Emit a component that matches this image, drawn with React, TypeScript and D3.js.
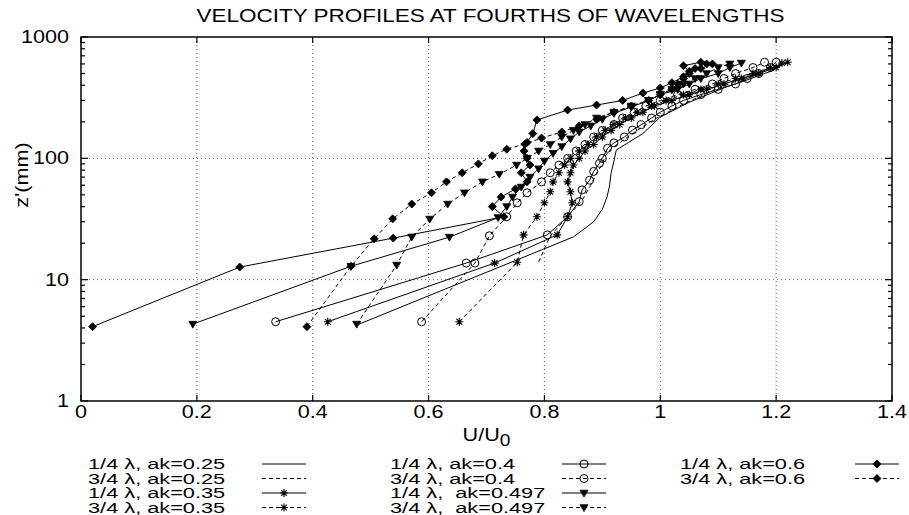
import React from "react";
import * as d3 from "d3";

// Axis ticks
const xTickValues = [0, 0.2, 0.4, 0.6, 0.8, 1, 1.2, 1.4];
const xTickLabels = ["0", "0.2", "0.4", "0.6", "0.8", "1", "1.2", "1.4"];
const yTickValues = [1, 10, 100, 1000];
const yTickLabels = ["1", "10", "100", "1000"];

// Velocity profiles: U/U0 against z' (mm)
const q1ak025U = [0.48, 0.85, 0.885, 0.9, 0.908, 0.912, 0.915, 0.92, 0.924, 0.945, 0.97, 1.0, 1.05, 1.114, 1.15, 1.19, 1.21];
const q1ak025Z = [4.3, 22.5, 30, 38, 48, 58, 75, 95, 117, 135, 160, 219, 290, 388, 443, 520, 590];
const q3ak025U = [0.79, 0.81, 0.84, 0.865, 0.88, 0.89, 0.9, 0.905, 0.915, 0.935, 0.96, 0.99, 1.04, 1.09, 1.14, 1.19];
const q3ak025Z = [14, 23, 33, 45, 60, 75, 90, 105, 120, 140, 170, 210, 280, 360, 450, 560];
const q1ak035U = [0.426, 0.714, 0.822, 0.84, 0.848, 0.845, 0.84, 0.845, 0.85, 0.86, 0.87, 0.885, 0.9, 0.915, 0.93, 0.95, 0.97, 0.99, 1.02, 1.05, 1.08, 1.11, 1.14, 1.17, 1.2, 1.22];
const q1ak035Z = [4.5, 13.7, 23.4, 33, 43, 53, 64, 76, 88, 100, 115, 130, 150, 170, 190, 215, 240, 270, 300, 335, 370, 410, 455, 500, 560, 620];
const q3ak035U = [0.653, 0.753, 0.764, 0.787, 0.8, 0.81, 0.815, 0.825, 0.835, 0.845, 0.86, 0.875, 0.89, 0.905, 0.92, 0.94, 0.96, 0.985, 1.01, 1.04, 1.07, 1.1, 1.13, 1.16, 1.19, 1.21];
const q3ak035Z = [4.5, 13.9, 23.4, 33, 43, 53, 64, 76, 88, 100, 115, 130, 150, 170, 190, 215, 240, 270, 300, 335, 370, 410, 455, 500, 560, 610];
const q1ak04U = [0.336, 0.665, 0.805, 0.84, 0.86, 0.865, 0.878, 0.885, 0.895, 0.9, 0.909, 0.92, 0.938, 0.952, 0.967, 0.985, 1.0, 1.02, 1.04, 1.07, 1.1, 1.13, 1.15, 1.17, 1.19, 1.2];
const q1ak04Z = [4.5, 13.7, 23.4, 33, 44, 55, 66, 78, 91, 100, 121, 134, 150, 171, 189, 215, 240, 270, 300, 335, 370, 410, 455, 500, 560, 620];
const q3ak04U = [0.588, 0.68, 0.705, 0.735, 0.753, 0.77, 0.795, 0.81, 0.825, 0.84, 0.855, 0.87, 0.885, 0.9, 0.92, 0.935, 0.955, 0.975, 1.0, 1.03, 1.06, 1.09, 1.11, 1.13, 1.16, 1.18];
const q3ak04Z = [4.5, 13.7, 23, 33, 43, 52, 64, 76, 88, 100, 115, 130, 150, 170, 190, 215, 240, 270, 300, 335, 370, 410, 455, 500, 560, 620];
const q1ak0497U = [0.193, 0.466, 0.636, 0.72, 0.735, 0.745, 0.76, 0.775, 0.79, 0.8, 0.815, 0.83, 0.845, 0.86, 0.88, 0.9, 0.92, 0.95, 0.98, 1.0, 1.03, 1.05, 1.07, 1.1, 1.12, 1.14];
const q1ak0497Z = [4.3, 12.9, 22.4, 32.5, 40, 48, 58, 70, 82, 95, 110, 125, 145, 165, 185, 210, 235, 265, 300, 335, 370, 410, 455, 500, 560, 610];
const q3ak0497U = [0.476, 0.545, 0.571, 0.602, 0.633, 0.662, 0.693, 0.722, 0.752, 0.77, 0.79, 0.81, 0.83, 0.85, 0.87, 0.89, 0.92, 0.95, 0.98, 1.0, 1.02, 1.04, 1.06, 1.08, 1.1, 1.12];
const q3ak0497Z = [4.3, 13.2, 22.5, 31.6, 42, 52, 64, 74, 88, 100, 115, 130, 150, 170, 190, 215, 240, 270, 300, 335, 370, 410, 455, 500, 560, 600];
const q1ak06U = [0.02, 0.274, 0.539, 0.73, 0.71, 0.725, 0.75, 0.77, 0.76, 0.775, 0.77, 0.765, 0.77, 0.78, 0.787, 0.84, 0.89, 0.935, 0.97, 1.0, 1.02, 1.04, 1.05, 1.04, 1.07, 1.09, 1.07];
const q1ak06Z = [4.1, 12.7, 22, 33, 40, 48, 56, 64, 76, 88, 100, 115, 135, 160, 207, 250, 275, 300, 345, 380, 420, 470, 520, 580, 620, 600, 550];
const q3ak06U = [0.39, 0.466, 0.506, 0.538, 0.571, 0.605, 0.631, 0.658, 0.686, 0.71, 0.735, 0.766, 0.795, 0.83, 0.86, 0.89, 0.92, 0.95, 0.98, 1.0, 1.02, 1.03, 1.04, 1.05, 1.06, 1.08];
const q3ak06Z = [4.1, 12.9, 21.7, 31.7, 42, 52, 64, 76, 90, 105, 119, 131, 147, 165, 185, 210, 240, 270, 300, 335, 370, 410, 455, 500, 550, 600];

type Marker = "none" | "circle" | "star" | "triangle" | "diamond";
interface Series { label: string; u: number[]; z: number[]; dashed: boolean; marker: Marker; }

const series: Series[] = [
  { label: "1/4 \u03bb, ak=0.25", u: q1ak025U, z: q1ak025Z, dashed: false, marker: "none" },
  { label: "3/4 \u03bb, ak=0.25", u: q3ak025U, z: q3ak025Z, dashed: true, marker: "none" },
  { label: "1/4 \u03bb, ak=0.35", u: q1ak035U, z: q1ak035Z, dashed: false, marker: "star" },
  { label: "3/4 \u03bb, ak=0.35", u: q3ak035U, z: q3ak035Z, dashed: true, marker: "star" },
  { label: "1/4 \u03bb, ak=0.4", u: q1ak04U, z: q1ak04Z, dashed: false, marker: "circle" },
  { label: "3/4 \u03bb, ak=0.4", u: q3ak04U, z: q3ak04Z, dashed: true, marker: "circle" },
  { label: "1/4 \u03bb,  ak=0.497", u: q1ak0497U, z: q1ak0497Z, dashed: false, marker: "triangle" },
  { label: "3/4 \u03bb,  ak=0.497", u: q3ak0497U, z: q3ak0497Z, dashed: true, marker: "triangle" },
  { label: "1/4 \u03bb, ak=0.6", u: q1ak06U, z: q1ak06Z, dashed: false, marker: "diamond" },
  { label: "3/4 \u03bb, ak=0.6", u: q3ak06U, z: q3ak06Z, dashed: true, marker: "diamond" },
];

const W = 909;
const H = 515;
const plot = { left: 81, right: 892, top: 37, bottom: 401 };
const FONT = "'Liberation Sans', Arial, Helvetica, sans-serif";
const DASH = "4,3";

function T({ x, y, size, sx = 1.2, anchor = "start", children }: { x: number; y: number; size: number; sx?: number; anchor?: string; children: React.ReactNode }) {
  return (
    <text transform={`translate(${x},${y}) scale(${sx},1)`} fontSize={size} textAnchor={anchor} xmlSpace="preserve">
      {children}
    </text>
  );
}

function MarkerGlyph({ kind, x, y }: { kind: Marker; x: number; y: number }) {
  const s = 4;
  if (kind === "circle") return <circle cx={x} cy={y} r={s} fill="none" stroke="#000" strokeWidth={1} />;
  if (kind === "diamond")
    return <path d={`M${x},${y - s}L${x + s},${y}L${x},${y + s}L${x - s},${y}Z`} fill="#000" stroke="#000" strokeWidth={0.8} />;
  if (kind === "triangle")
    return <path d={`M${x - s},${y - s * 0.7}L${x + s},${y - s * 0.7}L${x},${y + s}Z`} fill="#000" stroke="#000" strokeWidth={0.8} />;
  if (kind === "star") {
    const d = s * 0.72;
    return (
      <path
        d={`M${x - s},${y}L${x + s},${y}M${x},${y - s}L${x},${y + s}M${x - d},${y - d}L${x + d},${y + d}M${x - d},${y + d}L${x + d},${y - d}`}
        stroke="#000"
        strokeWidth={1.1}
      />
    );
  }
  return null;
}

export default function App() {
  const x = d3.scaleLinear().domain([0, 1.4]).range([plot.left, plot.right]);
  const y = d3.scaleLog().domain([1, 1000]).range([plot.bottom, plot.top]);
  const line = d3
    .line<[number, number]>()
    .x((d) => x(d[0]))
    .y((d) => y(d[1]));

  const minorTicks: number[] = [];
  for (const dec of [1, 10, 100]) for (let k = 2; k <= 9; k++) minorTicks.push(dec * k);

  const legendCols = [
    { tx: 88, sx0: 262, sx1: 306, items: [0, 1, 2, 3] },
    { tx: 390, sx0: 562, sx1: 606, items: [4, 5, 6, 7] },
    { tx: 680, sx0: 855, sx1: 899, items: [8, 9] },
  ];
  const legendRows = [464, 478.5, 493, 507.5];

  return (
    <svg
      width={W}
      height={H}
      viewBox={`0 0 ${W} ${H}`}
      style={{ position: "absolute", left: 0, top: 0, background: "#fff" }}
      fontFamily={FONT}
    >
      <rect x={0} y={0} width={W} height={H} fill="#fff" />
      <T x={(plot.left + plot.right) / 2 + 4} y={22} size={18} sx={1.25} anchor="middle">
        VELOCITY PROFILES AT FOURTHS OF WAVELENGTHS
      </T>

      {/* grid */}
      <g stroke="#333" strokeWidth={0.8} strokeDasharray="1,3">
        {xTickValues.slice(1, -1).map((v) => (
          <line key={`gx${v}`} x1={x(v)} x2={x(v)} y1={plot.top} y2={plot.bottom} />
        ))}
        {yTickValues.slice(1, -1).map((v) => (
          <line key={`gy${v}`} x1={plot.left} x2={plot.right} y1={y(v)} y2={y(v)} />
        ))}
      </g>

      {/* profiles */}
      <g fill="none" stroke="#000" strokeWidth={1}>
        {series.map((s, i) => (
          <path
            key={`l${i}`}
            d={line(s.u.map((u, j) => [u, s.z[j]] as [number, number])) || ""}
            strokeDasharray={s.dashed ? DASH : undefined}
          />
        ))}
      </g>
      <g>
        {series.map((s, i) =>
          s.marker === "none"
            ? null
            : s.u.map((u, j) => <MarkerGlyph key={`m${i}-${j}`} kind={s.marker} x={x(u)} y={y(s.z[j])} />)
        )}
      </g>

      {/* frame and ticks */}
      <rect x={plot.left} y={plot.top} width={plot.right - plot.left} height={plot.bottom - plot.top} fill="none" stroke="#000" strokeWidth={1.5} />
      <g stroke="#000" strokeWidth={1.2}>
        {xTickValues.map((v) => (
          <g key={`tx${v}`}>
            <line x1={x(v)} x2={x(v)} y1={plot.bottom} y2={plot.bottom - 6} />
            <line x1={x(v)} x2={x(v)} y1={plot.top} y2={plot.top + 6} />
          </g>
        ))}
        {yTickValues.map((v) => (
          <g key={`ty${v}`}>
            <line x1={plot.left} x2={plot.left + 7} y1={y(v)} y2={y(v)} />
            <line x1={plot.right} x2={plot.right - 7} y1={y(v)} y2={y(v)} />
          </g>
        ))}
        {minorTicks.map((v) => (
          <g key={`tm${v}`}>
            <line x1={plot.left} x2={plot.left + 4} y1={y(v)} y2={y(v)} />
            <line x1={plot.right} x2={plot.right - 4} y1={y(v)} y2={y(v)} />
          </g>
        ))}
      </g>

      {/* tick labels */}
      {xTickValues.map((v, i) => (
        <T key={`lx${v}`} x={x(v)} y={plot.bottom + 17} size={18} anchor="middle">
          {xTickLabels[i]}
        </T>
      ))}
      {yTickValues.map((v, i) => (
        <T key={`ly${v}`} x={plot.left - 12} y={y(v) + 6} size={18} anchor="end">
          {yTickLabels[i]}
        </T>
      ))}

      {/* axis titles */}
      <T x={(plot.left + plot.right) / 2} y={441} size={18} anchor="middle">
        U/U<tspan dy={5} fontSize={16}>0</tspan>
      </T>
      <text transform="translate(28,175) rotate(-90) scale(1.2,1)" textAnchor="middle" fontSize={18}>
        z'(mm)
      </text>

      {/* legend */}
      {legendCols.map((c, ci) =>
        c.items.map((si, ri) => {
          const s = series[si];
          const yy = legendRows[ri];
          return (
            <g key={`lg${ci}-${ri}`}>
              <T x={c.tx} y={yy + 5.3} size={15} sx={1.45}>
                {s.label}
              </T>
              <line x1={c.sx0} x2={c.sx1} y1={yy} y2={yy} stroke="#000" strokeWidth={1} strokeDasharray={s.dashed ? DASH : undefined} />
              <MarkerGlyph kind={s.marker} x={(c.sx0 + c.sx1) / 2} y={yy} />
            </g>
          );
        })
      )}
    </svg>
  );
}
